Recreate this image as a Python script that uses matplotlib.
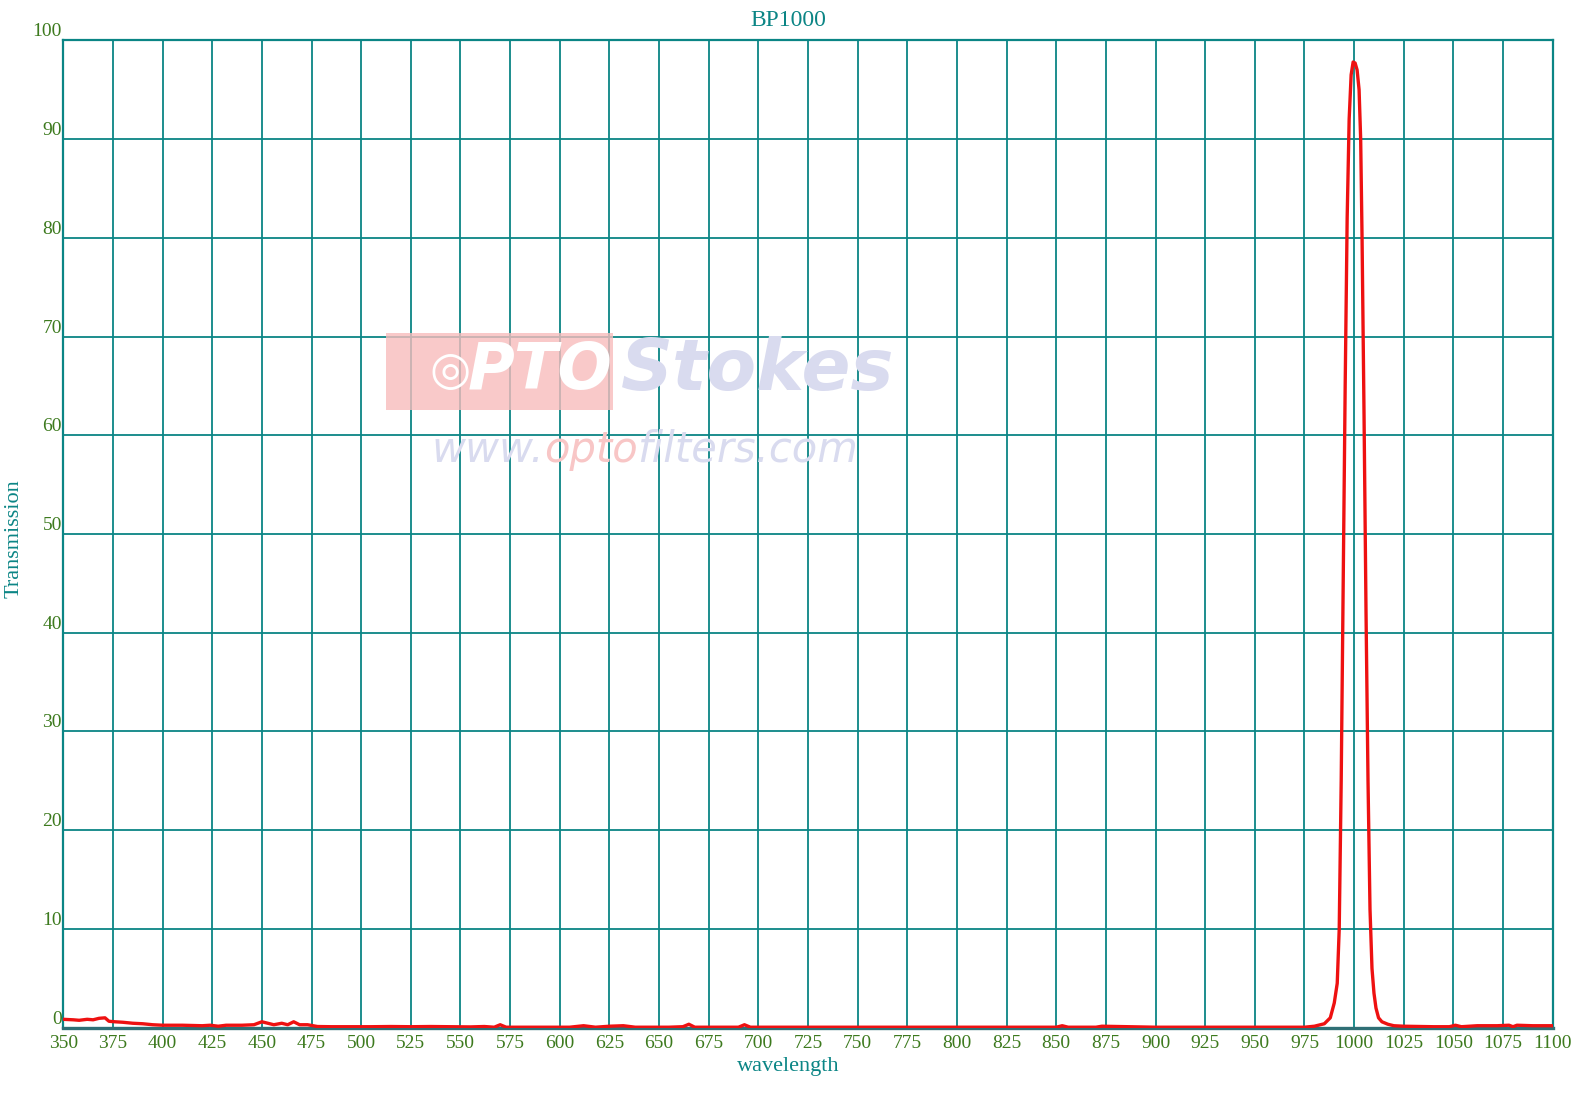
import matplotlib
matplotlib.use("Agg")
import matplotlib.pyplot as plt
from matplotlib.patches import Rectangle

# ---- data ----
wavelength = [350, 355, 358, 362, 365, 368, 371, 373, 376, 380, 385, 390, 395, 400,
              410, 420, 424, 428, 432, 440, 446, 450, 453, 456, 460, 463, 466, 469,
              473, 478, 485, 495, 505, 515, 525, 535, 545, 555, 562, 567, 570, 573,
              578, 590, 605, 612, 618, 625, 632, 638, 645, 655, 662, 665, 668, 675,
              690, 693, 696, 705, 730, 760, 790, 820, 850, 853, 856, 870, 873, 900,
              930, 960, 975, 980, 983, 985, 988, 990, 991.5, 992.5, 993.5, 994.5,
              995.5, 996.5, 997.5, 998.5, 999.5, 1000.5, 1001.5, 1002.5, 1003.3,
              1004, 1005, 1006, 1007, 1008, 1009, 1010, 1011, 1012.3, 1014, 1017,
              1020, 1025, 1040, 1048, 1051, 1054, 1062, 1072, 1078, 1080, 1082, 1090,
              1100]
transmission = [0.85, 0.8, 0.75, 0.85, 0.8, 0.95, 1.0, 0.65, 0.6, 0.55, 0.45, 0.4, 0.3, 0.25,
                0.25, 0.2, 0.25, 0.15, 0.25, 0.25, 0.3, 0.6, 0.45, 0.3, 0.45, 0.3, 0.6, 0.3,
                0.3, 0.12, 0.1, 0.1, 0.1, 0.12, 0.1, 0.12, 0.1, 0.08, 0.12, 0.05, 0.3, 0.05,
                0.05, 0.05, 0.05, 0.2, 0.05, 0.15, 0.2, 0.05, 0.05, 0.05, 0.1, 0.35, 0.05, 0.05,
                0.05, 0.3, 0.05, 0.05, 0.05, 0.05, 0.05, 0.05, 0.05, 0.2, 0.05, 0.05, 0.15, 0.05,
                0.05, 0.05, 0.05, 0.15, 0.3, 0.4, 1.0, 2.5, 4.5, 10, 25, 45,
                65, 82, 92, 96.5, 97.8, 97.7, 97.0, 95.0, 90.0,
                80, 62, 42, 25, 12, 6, 3.5, 2.0, 1.0, 0.6, 0.35,
                0.2, 0.15, 0.1, 0.1, 0.25, 0.1, 0.2, 0.2, 0.25, 0.1, 0.25, 0.2,
                0.2]
x_ticks = list(range(350, 1101, 25))
y_ticks = list(range(0, 101, 10))
title = "BP1000"
x_label = "wavelength"
y_label = "Transmission"

# ---- styling ----
W, H = 1581, 1108
fig = plt.figure(figsize=(W / 100, H / 100), dpi=100)
left, right, top, bottom = 63.3 / W, 1552.7 / W, 1 - 40.3 / H, 1 - 1027.7 / H
ax = fig.add_axes([left, bottom, right - left, top - bottom])

teal = "#0b8585"
green = "#3d7a1e"
serif = ["Liberation Serif", "DejaVu Serif"]

# watermark (behind everything)
fig.patches.append(Rectangle((386 / W, 1 - 410 / H), (613 - 386) / W, (410 - 333) / H,
                             transform=fig.transFigure, facecolor="#f8bcbc",
                             edgecolor="none", alpha=0.8, zorder=0))
fig.text(450 / W, 1 - 371 / H, "◎", color="white", fontsize=34,
         family="DejaVu Sans", ha="center", va="center", zorder=0.5)
fig.text(540 / W, 1 - 371 / H, "PTO", color="white", fontsize=46,
         fontweight="bold", fontstyle="italic", family="DejaVu Sans",
         ha="center", va="center", zorder=0.5)
fig.text(758 / W, 1 - 370 / H, "Stokes", color="#d9dbef", fontsize=52,
         fontweight="bold", fontstyle="italic", family="DejaVu Sans",
         ha="center", va="center", zorder=0.5)
wm = dict(fontsize=30, fontstyle="italic", family="DejaVu Sans", zorder=0.5)
t1 = fig.text(431 / W, 1 - 462 / H, "www.", color="#d9dbef", ha="left",
              va="baseline", **wm)
ann2 = fig.add_artist(plt.Annotation("opto", xy=(1, 0), xycoords=t1, va="bottom",
                                     ha="left", color="#f8c6c6", **wm))
fig.add_artist(plt.Annotation("filters.com", xy=(1, 0), xycoords=ann2,
                              va="bottom", ha="left", color="#d9dbef", **wm))

ax.set_facecolor("none")
ax.plot(wavelength, transmission, color="#ee1111", lw=2.4, zorder=3,
        solid_joinstyle="round")

ax.set_xlim(350, 1100)
ax.set_ylim(0, 100)
ax.set_xticks(x_ticks)
ax.set_yticks(y_ticks)
ax.set_xticklabels([str(t) for t in x_ticks])
ax.set_yticklabels([str(t) for t in y_ticks])
ax.grid(True, color=teal, lw=1.3, zorder=1)
ax.set_axisbelow(True)
ax.tick_params(axis="both", length=0, colors=green, labelsize=14)
ax.tick_params(axis="x", pad=5)
ax.tick_params(axis="y", pad=1)
for lab in ax.get_xticklabels() + ax.get_yticklabels():
    lab.set_family(serif)
    lab.set_color(green)
for lab in ax.get_yticklabels():
    lab.set_va("bottom")

for s in ["top", "left", "right"]:
    ax.spines[s].set_color(teal)
    ax.spines[s].set_linewidth(1.6)
ax.spines["bottom"].set_color("#2f6f75")
ax.spines["bottom"].set_linewidth(2.4)

fig.text(788 / W, 1 - 20 / H, title, color=teal, fontsize=17, family=serif,
         ha="center", va="center")
fig.text(788 / W, 1 - 1066 / H, x_label, color=teal, fontsize=16, family=serif,
         ha="center", va="center")
fig.text(14 / W, 1 - 539 / H, y_label, color=teal, fontsize=16, family=serif,
         ha="center", va="center", rotation=90)

fig.savefig("out.png", dpi=100, facecolor="white")
